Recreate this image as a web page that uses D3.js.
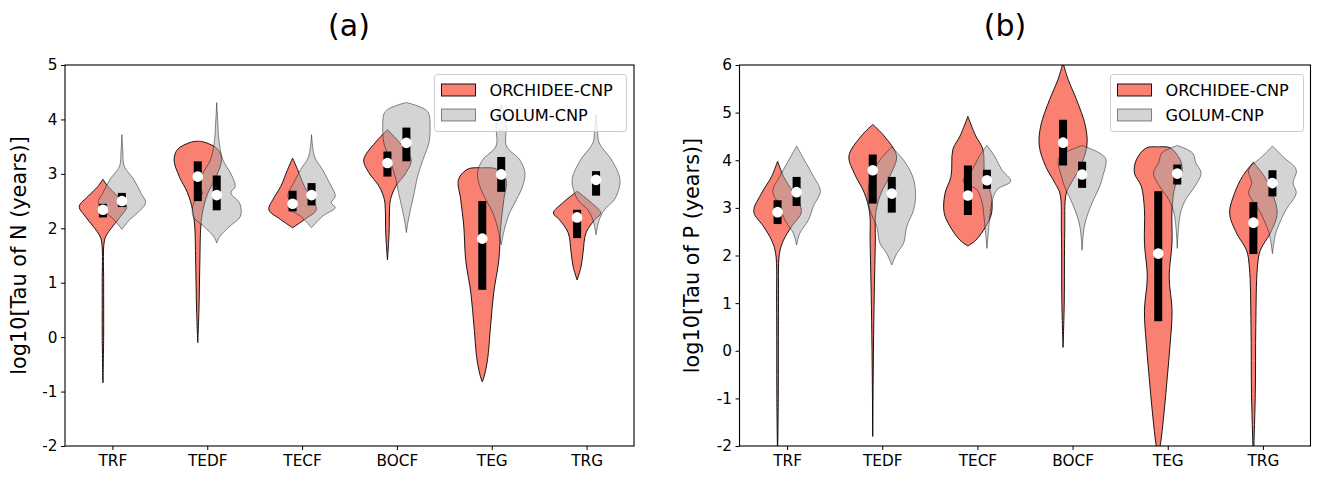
<!DOCTYPE html>
<html><head><meta charset="utf-8">
<script src="https://cdn.jsdelivr.net/npm/d3@7"></script>
<style>
body{margin:0;background:#fff}
svg{display:block}
text{font-family:"DejaVu Sans",sans-serif;fill:#000}
</style>
</head><body>
<svg id="c" width="1321" height="486"></svg>
<script>
// ---------------- data ----------------
const categories = ["TRF","TEDF","TECF","BOCF","TEG","TRG"];
const modelNames = ["ORCHIDEE-CNP","GOLUM-CNP"];
const yTicksN = [5,4,3,2,1,0,-1,-2];
const yTicksP = [6,5,4,3,2,1,0,-1,-2];

// (a) Tau of N : quartiles / medians (log10 years)
const nQ1Orch  = [2.20,2.50,2.31,2.95,0.87,1.82];
const nMedOrch = [2.34,2.95,2.45,3.20,1.81,2.20];
const nQ3Orch  = [2.45,3.23,2.69,3.41,2.50,2.34];
const nQ1Gol   = [2.39,2.33,2.42,3.23,2.67,2.60];
const nMedGol  = [2.50,2.61,2.61,3.57,2.99,2.89];
const nQ3Gol   = [2.65,2.97,2.83,3.85,3.31,3.05];

// (b) Tau of P
const pQ1Orch  = [2.66,3.09,2.85,3.89,0.62,2.03];
const pMedOrch = [2.91,3.79,3.26,4.37,2.04,2.69];
const pQ3Orch  = [3.16,4.12,3.89,4.85,3.35,3.12];
const pQ1Gol   = [3.04,2.90,3.40,3.42,3.49,3.24];
const pMedGol  = [3.33,3.30,3.58,3.70,3.72,3.52];
const pQ3Gol   = [3.65,3.65,3.80,3.97,3.91,3.79];

// violin outlines: [value, relative half-width]
const nShapeOrch = [
  [[2.90,0],[2.77,0.21],[2.59,0.62],[2.40,1.0],[2.22,0.75],[2.04,0.42],[1.85,0.12],[1.70,0.04],[1.0,0.03],[0,0.03],[-0.84,0]],
  [[3.60,0],[3.58,0.3],[3.45,0.85],[3.26,1.0],[2.95,0.78],[2.65,0.43],[2.34,0.22],[2.04,0.13],[1.42,0.09],[0.5,0.05],[-0.10,0]],
  [[3.29,0],[3.08,0.21],[2.77,0.5],[2.53,0.83],[2.34,1.0],[2.16,0.5],[2.01,0]],
  [[3.81,0],[3.57,0.52],[3.26,1.0],[3.02,0.78],[2.77,0.35],[2.53,0.13],[2.34,0.09],[1.90,0.07],[1.42,0]],
  [[3.11,0],[3.09,0.6],[2.90,1.0],[2.53,0.91],[2.04,0.78],[1.42,0.70],[0.81,0.48],[0.20,0.35],[-0.42,0.22],[-0.72,0.08],[-0.82,0]],
  [[2.68,0],[2.47,0.6],[2.28,1.0],[2.16,0.75],[1.92,0.38],[1.55,0.25],[1.30,0.17],[1.05,0]]
];
const nShapeGol = [
  [[3.72,0],[3.40,0.04],[3.14,0.1],[2.90,0.5],[2.65,0.8],[2.47,1.0],[2.30,0.7],[2.16,0.33],[1.98,0]],
  [[4.31,0],[3.90,0.05],[3.63,0.09],[3.26,0.26],[3.00,0.6],[2.77,0.78],[2.65,0.6],[2.46,0.97],[2.22,1.0],[2.04,0.56],[1.85,0.13],[1.73,0]],
  [[3.72,0],[3.31,0.13],[3.08,0.46],[2.84,0.75],[2.59,1.0],[2.47,0.83],[2.38,1.0],[2.22,0.46],[2.01,0]],
  [[4.31,0],[4.26,0.4],[4.18,0.8],[4.10,0.95],[3.88,1.0],[3.57,0.95],[3.26,0.7],[2.95,0.47],[2.65,0.33],[2.34,0.17],[2.10,0.06],[1.92,0]],
  [[4.27,0],[4.10,0.15],[3.88,0.22],[3.51,0.22],[3.26,0.78],[3.02,1.0],[2.77,0.9],[2.53,0.65],[2.28,0.35],[2.04,0.17],[1.70,0]],
  [[4.09,0],[3.80,0.06],[3.57,0.13],[3.26,0.65],[2.96,0.98],[2.80,1.0],[2.53,0.78],[2.34,0.35],[2.15,0.13],[1.88,0]]
];
const pShapeOrch = [
  [[3.98,0],[3.66,0.25],[3.31,0.67],[2.92,1.0],[2.61,0.59],[2.32,0.25],[2.04,0.08],[1.0,0.04],[-1.0,0.03],[-2.3,0]],
  [[4.75,0],[4.51,0.48],[4.09,1.0],[3.73,0.78],[3.31,0.35],[2.90,0.13],[2.30,0.11],[1.20,0.065],[0,0.03],[-1.80,0]],
  [[4.92,0],[4.51,0.33],[4.23,0.63],[3.66,0.71],[3.31,0.96],[2.90,1.0],[2.61,0.75],[2.32,0.33],[2.20,0]],
  [[6.05,0],[5.70,0.21],[5.28,0.56],[4.72,0.94],[4.30,1.0],[3.87,0.73],[3.52,0.34],[3.30,0.13],[2.50,0.07],[1.0,0.05],[0.07,0]],
  [[4.28,0],[4.26,0.5],[4.01,0.92],[3.73,1.0],[3.45,0.71],[2.96,0.58],[2.26,0.58],[1.55,0.46],[0.85,0.58],[0.14,0.5],[-0.56,0.38],[-1.27,0.25],[-1.83,0.13],[-2.3,0]],
  [[3.96,0],[3.66,0.46],[3.31,0.79],[2.89,1.0],[2.47,0.71],[2.11,0.29],[1.76,0.17],[0.49,0.1],[-0.90,0.08],[-2.3,0]]
];
const pShapeGol = [
  [[4.30,0],[4.00,0.33],[3.66,0.71],[3.35,1.0],[3.04,0.71],[2.75,0.5],[2.46,0.13],[2.22,0]],
  [[4.28,0],[4.00,0.5],[3.66,0.88],[3.31,1.0],[2.96,0.92],[2.61,0.63],[2.26,0.5],[2.04,0.21],[1.80,0]],
  [[4.31,0],[4.08,0.33],[3.80,0.62],[3.56,1.0],[3.38,0.42],[3.10,0.2],[2.80,0.12],[2.15,0]],
  [[4.31,0],[4.15,0.74],[4.02,1.0],[3.66,0.87],[3.45,0.74],[3.17,0.48],[2.90,0.26],[2.60,0.09],[2.11,0]],
  [[4.31,0],[4.15,0.65],[3.95,0.78],[3.73,1.0],[3.45,0.74],[3.17,0.35],[2.88,0.13],[2.15,0]],
  [[4.30,0],[4.08,0.43],[3.80,1.0],[3.52,0.87],[3.31,1.0],[2.96,0.57],[2.68,0.3],[2.45,0.13],[2.04,0]]
];

// ---------------- drawing ----------------
const svg = d3.select("#c");
const styles = [
  {fill:"#fa8072", fillOp:1, stroke:"#000", strokeOp:1},
  {fill:"#a9a9a9", fillOp:0.5, stroke:"#000", strokeOp:0.5}
];
const offsets = [-0.1, 0.1];

function drawPanel(o){
  const g = svg.append("g");
  const x = d3.scaleLinear().domain([0.5,6.5]).range([o.left,o.right]);
  const y = d3.scaleLinear().domain(o.domain).range([o.bottom,o.top]);
  const hw = x(1.25) - x(1);
  const clipId = "clip" + o.id;
  svg.append("clipPath").attr("id",clipId).append("rect")
    .attr("x",o.left).attr("y",o.top).attr("width",o.right-o.left).attr("height",o.bottom-o.top);

  const plot = g.append("g").attr("clip-path",`url(#${clipId})`);
  [0,1].forEach(m=>{
    const shapes = o.shapes[m];
    const st = styles[m];
    categories.forEach((c,i)=>{
      const cx = x(i+1+offsets[m]);
      const area = d3.area().curve(d3.curveCatmullRom.alpha(0.5))
        .y(d=>y(d[0])).x0(d=>cx - d[1]*hw).x1(d=>cx + d[1]*hw);
      plot.append("path").attr("d",area(shapes[i]))
        .attr("fill",st.fill).attr("fill-opacity",st.fillOp)
        .attr("stroke",st.stroke).attr("stroke-opacity",st.strokeOp)
        .attr("stroke-width",0.9).attr("stroke-linejoin","round");
    });
  });
  [0,1].forEach(m=>{
    const [q1,med,q3] = o.stats[m];
    categories.forEach((c,i)=>{
      const cx = x(i+1+offsets[m]);
      plot.append("rect").attr("x",cx-4).attr("width",8)
        .attr("y",y(q3[i])).attr("height",y(q1[i])-y(q3[i])).attr("fill","#000");
      plot.append("circle").attr("cx",cx).attr("cy",y(med[i])).attr("r",5.3).attr("fill","#fff");
    });
  });

  // axes
  const ya = g.append("g").attr("transform",`translate(${o.left},0)`)
    .call(d3.axisLeft(y).tickValues(o.ticks).tickSize(4).tickPadding(3.5).tickFormat(d=>String(d)));
  ya.select(".domain").remove();
  ya.selectAll("text").attr("font-size","15.3px").attr("font-family","DejaVu Sans");
  const xa = g.append("g").attr("transform",`translate(0,${o.bottom})`)
    .call(d3.axisBottom(x).tickValues([1,2,3,4,5,6]).tickSize(4).tickPadding(5.5).tickFormat((d,i)=>categories[i]));
  xa.select(".domain").remove();
  xa.selectAll("text").attr("font-size","15.3px").attr("font-family","DejaVu Sans");
  g.selectAll(".tick line").attr("stroke","#000").attr("stroke-width",1);

  g.append("rect").attr("x",o.left).attr("y",o.top).attr("width",o.right-o.left).attr("height",o.bottom-o.top)
    .attr("fill","none").attr("stroke","#000").attr("stroke-width",1.1);

  g.append("text").attr("transform",`translate(${o.labelX},${(o.top+o.bottom)/2}) rotate(-90)`)
    .attr("text-anchor","middle").attr("dominant-baseline","middle")
    .attr("font-size","20.8px").text(o.label);
  g.append("text").attr("x",o.titleX).attr("y",36).attr("text-anchor","middle")
    .attr("font-family","Liberation Sans, Arial, sans-serif").attr("font-size","30px").text(o.title);

  // legend
  const L = o.legend;
  const lg = g.append("g");
  lg.append("rect").attr("x",L.x).attr("y",L.y).attr("width",L.w).attr("height",L.h).attr("rx",3)
    .attr("fill","#fff").attr("fill-opacity",0.8).attr("stroke","#cccccc").attr("stroke-width",1);
  modelNames.forEach((nm,k)=>{
    const st = styles[k];
    const yy = L.y + 9.5 + k*25;
    lg.append("rect").attr("x",L.x+7).attr("y",yy).attr("width",34).attr("height",12)
      .attr("fill",st.fill).attr("fill-opacity",st.fillOp)
      .attr("stroke",st.stroke).attr("stroke-opacity",st.strokeOp).attr("stroke-width",0.9);
    lg.append("text").attr("x",L.x+55).attr("y",yy+12).attr("font-size","16.2px").text(nm);
  });
}

drawPanel({id:"a", left:65, right:634, top:65, bottom:446, domain:[-2,5], ticks:yTicksN,
  label:"log10[Tau of N (years)]", labelX:20, title:"(a)", titleX:349,
  shapes:[nShapeOrch,nShapeGol], stats:[[nQ1Orch,nMedOrch,nQ3Orch],[nQ1Gol,nMedGol,nQ3Gol]],
  legend:{x:434.5,y:74.5,w:192,h:57}});
drawPanel({id:"b", left:739.5, right:1310.5, top:65, bottom:446, domain:[-2,6], ticks:yTicksP,
  label:"log10[Tau of P (years)]", labelX:693, title:"(b)", titleX:1005,
  shapes:[pShapeOrch,pShapeGol], stats:[[pQ1Orch,pMedOrch,pQ3Orch],[pQ1Gol,pMedGol,pQ3Gol]],
  legend:{x:1110.5,y:74.5,w:193,h:57}});
</script>
</body></html>
